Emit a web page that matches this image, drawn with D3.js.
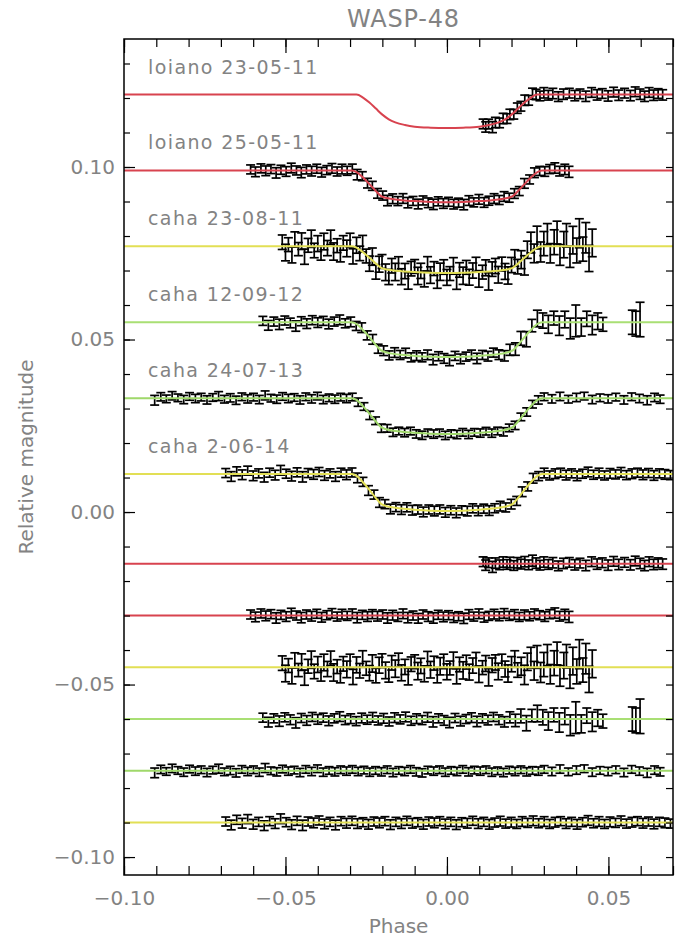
<!DOCTYPE html>
<html>
<head>
<meta charset="utf-8">
<script src="https://cdn.jsdelivr.net/npm/d3@7"></script>
<style>
  body { margin: 0; background: #fff; }
  text { font-family: "DejaVu Sans", sans-serif; fill: #838383; }
</style>
</head>
<body>
<svg id="chart" width="698" height="942"></svg>
<script>
// Light curves of WASP-48: transits (top) and residuals (bottom)
// points are [phase x1e-3, residual x1e-4 mag, error x1e-4 mag]

const labels = ['loiano 23-05-11', 'loiano 25-05-11', 'caha 23-08-11', 'caha 12-09-12', 'caha 24-07-13', 'caha 2-06-14'];
const baselines = [0.121, 0.099, 0.077, 0.055, 0.033, 0.011];
const residualLevels = [-0.015, -0.030, -0.045, -0.060, -0.075, -0.090];
const depths = [0.0097, 0.0092, 0.0077, 0.0101, 0.0104, 0.0107];
const xMajorTicks = [-0.10, -0.05, 0.00, 0.05];
const yMajorTicks = [-0.10, -0.05, 0.00, 0.05, 0.10];

// model shape (fraction of transit depth)
const modelPhaseLoiano = [-100, -28, -26, -24, -22, -20, -18, -16, -13, -10, -5, 0, 5, 10, 13, 16, 18, 20, 22, 24, 26, 28, 70];
const modelShapeLoiano = [0, 0, 0.09, 0.24, 0.42, 0.6, 0.74, 0.83, 0.91, 0.96, 0.99, 1, 0.99, 0.96, 0.91, 0.83, 0.74, 0.6, 0.42, 0.24, 0.09, 0, 0];
const modelPhase = [-100, -29.5, -28, -26, -24, -22, -20.5, -19, -17, -14, -10, -5, 0, 5, 10, 14, 17, 19, 20.5, 22, 24, 26, 28, 29.5, 70];
const modelShape = [0, 0, 0.05, 0.22, 0.43, 0.65, 0.8, 0.86, 0.9, 0.935, 0.965, 0.99, 1, 0.99, 0.965, 0.935, 0.9, 0.86, 0.8, 0.65, 0.43, 0.22, 0.05, 0, 0];

const loiano230511 = [[11.2,6,14],[12.0,-4,15],[12.9,3,14],[14.1,-9,16],[15.0,2,15],[16.3,-3,14],[17.4,5,15],[18.6,-2,14],[19.5,4,15],[20.7,-5,14],[21.8,3,15],[22.9,-1,14],[24.1,6,15],[25.3,-3,14],[26.5,9,16],[27.6,2,15],[28.8,-4,14],[30.0,5,15],[31.4,-2,14],[32.8,3,15],[34.5,-6,14],[36.1,1,15],[37.9,4,14],[39.6,-3,15],[41.2,2,14],[43.0,-5,15],[44.8,6,14],[46.5,-1,15],[48.1,3,14],[49.9,-4,15],[51.6,7,14],[53.2,-2,15],[55.0,4,14],[56.8,-3,15],[58.3,8,14],[59.8,1,15],[61.2,-5,15],[62.6,6,14],[64.0,-2,15],[65.4,3,14],[66.8,-1,15]];

const loiano250511 = [[-60.8,3,13],[-59.3,-4,14],[-57.6,6,13],[-56.1,-1,14],[-54.5,4,13],[-52.9,-7,15],[-51.4,2,13],[-49.8,-3,14],[-48.2,7,14],[-46.6,0,13],[-45.1,-6,15],[-43.5,3,13],[-41.9,-2,14],[-40.3,5,13],[-38.8,-5,14],[-37.2,1,13],[-35.6,6,14],[-34.0,-3,13],[-32.5,4,14],[-30.9,-1,13],[-29.3,5,14],[-27.8,-6,15],[-26.2,2,13],[-24.6,-3,14],[-23.1,4,13],[-21.5,-2,14],[-19.9,3,13],[-18.4,-7,15],[-16.8,1,14],[-15.2,-4,13],[-13.6,5,14],[-12.1,-6,15],[-10.5,0,13],[-8.9,-8,14],[-7.4,3,13],[-5.8,-3,14],[-4.2,-7,15],[-2.7,2,13],[-1.1,-4,14],[0.5,1,13],[2.1,-6,14],[3.6,-2,13],[5.2,-8,15],[6.8,3,14],[8.3,-3,13],[9.9,5,14],[11.5,-5,14],[13.0,-1,13],[14.6,4,14],[16.2,-2,13],[17.7,6,14],[19.3,-1,13],[20.9,3,14],[22.4,-4,13],[24.0,2,14],[25.6,-2,13],[27.1,5,14],[28.7,1,13],[30.3,-3,14],[31.8,4,13],[33.4,7,15],[34.9,-2,14],[36.5,3,15],[37.8,-4,16]];

const caha230811 = [[-51.0,12,21],[-50.0,-18,24],[-49.1,5,20],[-48.0,-25,23],[-47.1,20,22],[-46.0,-8,19],[-45.0,15,24],[-44.1,-30,22],[-43.0,3,20],[-42.0,22,25],[-41.1,-12,21],[-40.0,8,23],[-39.0,-20,20],[-38.1,14,24],[-37.0,-5,22],[-36.0,26,21],[-35.1,-15,25],[-34.0,2,20],[-33.0,-22,23],[-32.1,10,21],[-31.0,-6,24],[-30.0,18,20],[-29.1,-28,22],[-28.0,7,23],[-27.0,-10,21],[-26.1,24,24],[-25.0,-3,20],[-24.0,-17,22],[-23.1,11,25],[-22.0,-24,21],[-21.0,6,23],[-20.1,19,20],[-19.0,-9,24],[-18.0,-21,22],[-17.1,13,21],[-16.0,-4,25],[-15.0,21,20],[-14.1,-16,23],[-13.0,1,22],[-12.0,-27,24],[-11.1,9,21],[-10.0,16,20],[-9.0,-11,25],[-8.1,4,22],[-7.0,-19,23],[-6.0,25,21],[-5.1,-7,24],[-4.0,12,20],[-3.0,-23,22],[-2.1,3,25],[-1.0,17,21],[0.0,-13,23],[0.9,-2,20],[2.0,20,24],[3.0,-26,22],[3.9,8,21],[5.0,-9,25],[6.0,15,20],[6.9,-14,23],[8.0,5,22],[9.0,22,21],[9.9,-20,24],[11.0,-1,20],[12.0,11,23],[12.9,-29,25],[14.0,6,21],[15.0,14,22],[15.9,-12,24],[17.0,18,20],[18.0,-5,23],[18.9,-18,25],[20.0,9,22],[21.0,24,24],[21.9,-8,21],[23.0,3,26],[24.0,-22,28],[24.9,16,25],[26.0,28,30],[27.0,-10,27],[27.9,30,33],[29.0,-15,29],[30.0,8,35],[31.1,35,31],[32.0,-20,28],[33.2,12,36],[34.1,40,33],[35.0,-25,30],[36.2,5,38],[37.0,32,34],[38.1,-30,31],[39.0,18,40],[40.2,-12,36],[41.0,38,42],[42.1,-8,35],[43.0,25,44],[44.0,-35,38],[45.0,10,40]];

const caha120912 = [[-57.0,4,13],[-55.3,-9,14],[-53.6,2,13],[-51.9,-6,15],[-50.2,5,13],[-48.5,-2,14],[-46.8,-11,15],[-45.1,3,13],[-43.4,-4,14],[-41.7,6,13],[-40.0,-1,14],[-38.3,4,13],[-36.6,-5,14],[-34.9,2,13],[-33.2,7,14],[-31.5,-3,13],[-29.8,1,14],[-28.1,-6,13],[-26.4,3,14],[-24.7,-2,13],[-23.0,5,14],[-21.3,-4,13],[-19.6,2,14],[-17.9,-7,13],[-16.2,4,14],[-14.5,-1,13],[-12.8,6,14],[-11.1,-5,13],[-9.4,1,14],[-7.7,-3,13],[-6.0,5,14],[-4.3,-8,15],[-2.6,2,13],[-0.9,-4,14],[0.8,-10,15],[2.5,3,13],[4.2,-6,14],[5.9,0,13],[7.6,4,14],[9.3,-7,15],[11.0,2,13],[12.7,-3,14],[14.4,6,13],[16.1,-2,14],[17.8,-8,15],[19.5,5,16],[21.2,-4,18],[22.9,9,20],[24.6,-12,22],[26.3,10,18],[28.0,16,24],[29.7,5,22],[31.4,-6,26],[33.1,12,20],[34.8,-10,28],[36.5,8,24],[38.2,-18,30],[39.9,4,46],[41.6,-14,26],[43.3,10,22],[45.0,-8,28],[46.7,3,24],[48.3,-6,20],[57.4,0,35],[58.5,-4,36],[59.8,8,50]];

const caha240713 = [[-90.5,-6,14],[-88.6,4,12],[-86.9,-2,11],[-85.1,7,12],[-83.3,1,11],[-81.5,-4,12],[-79.7,5,11],[-77.9,-1,12],[-76.1,3,11],[-74.3,-5,12],[-72.5,2,11],[-70.7,6,13],[-68.9,-3,11],[-67.1,1,12],[-65.3,-6,12],[-63.5,4,11],[-61.7,-2,12],[-59.9,3,11],[-58.1,-4,12],[-56.3,8,13],[-54.5,0,11],[-52.7,-3,12],[-50.9,5,11],[-49.1,-1,12],[-47.3,2,11],[-45.5,-5,12],[-43.7,4,11],[-41.9,-2,12],[-40.1,6,11],[-38.3,-4,12],[-36.5,1,11],[-34.7,-3,12],[-32.9,3,11],[-31.1,-1,12],[-29.3,4,11],[-27.5,-2,12],[-25.7,2,11],[-23.9,-4,12],[-22.1,1,11],[-20.3,-3,12],[-18.5,3,11],[-16.7,-5,12],[-14.9,1,11],[-13.1,-2,12],[-11.3,4,11],[-9.5,-3,12],[-7.7,-6,12],[-5.9,2,11],[-4.1,-1,12],[-2.3,3,11],[-0.5,-4,12],[1.3,1,11],[3.1,-2,12],[4.9,4,11],[6.7,-3,12],[8.5,2,11],[10.3,-1,12],[12.1,3,11],[13.9,-4,12],[15.7,0,11],[17.5,-5,12],[19.3,2,11],[21.1,-2,12],[22.9,3,11],[24.7,-3,12],[26.5,1,11],[28.3,-1,12],[30.1,4,11],[32.5,-2,12],[35.0,5,12],[37.6,-3,11],[40.1,2,12],[42.5,6,11],[45.0,-4,12],[47.4,1,11],[49.9,-2,12],[52.3,3,11],[54.8,-5,12],[57.2,4,11],[59.6,-1,12],[62.0,-6,13],[64.3,2,12],[66.0,-3,12]];

const caha020614 = [[-68.5,3,13],[-66.8,-7,14],[-65.1,8,13],[-63.4,-2,14],[-61.7,10,13],[-60.0,-5,14],[-58.3,2,13],[-56.6,-9,14],[-54.9,4,13],[-53.2,-3,14],[-51.5,11,14],[-49.8,1,13],[-48.1,-6,14],[-46.4,5,13],[-44.7,-8,15],[-43.0,3,13],[-41.3,-1,14],[-39.6,6,13],[-37.9,-4,14],[-36.2,2,13],[-34.5,-7,14],[-32.8,4,13],[-31.1,-2,14],[-29.4,5,13],[-27.7,-3,14],[-26.0,1,13],[-24.3,-5,14],[-22.6,3,13],[-20.9,-1,14],[-19.2,4,13],[-17.5,-6,14],[-15.8,2,13],[-14.1,-3,14],[-12.4,5,13],[-10.7,-2,14],[-9.0,1,13],[-7.3,-5,14],[-5.6,3,13],[-3.9,-1,14],[-2.2,4,13],[-0.5,-4,14],[1.2,2,13],[2.9,-6,14],[4.6,1,13],[6.3,-2,14],[8.0,5,13],[9.7,-3,14],[11.4,2,13],[13.1,-5,14],[14.8,0,13],[16.5,4,14],[18.2,-3,13],[19.9,1,14],[21.6,-4,13],[23.3,3,14],[25.0,-1,13],[26.7,5,14],[28.4,-2,13],[30.1,3,14],[31.8,-4,13],[33.5,1,14],[35.2,4,13],[36.9,-3,14],[38.6,2,13],[40.3,-5,14],[42.0,1,13],[43.7,6,14],[45.4,-2,13],[47.1,3,14],[48.8,-4,13],[50.5,2,14],[52.2,-1,13],[53.9,5,14],[55.6,-3,13],[57.3,1,14],[59.0,4,13],[60.7,-2,14],[62.4,3,13],[64.1,-4,14],[65.8,2,13],[67.5,-1,14],[69.2,-3,13]];

const datasets = [loiano230511, loiano250511, caha230811, caha120912, caha240713, caha020614];

// styling
const lineColors = ['#d8434f', '#d8434f', '#e2df55', '#a9df74', '#9fd86a', '#e2df55'];
const margin = { top: 39, right: 25, bottom: 67, left: 124 };
const width = 698, height = 942;

const svg = d3.select('#chart');
svg.append('rect').attr('width', width).attr('height', height).attr('fill', '#fff');

const x = d3.scaleLinear().domain([-0.10, 0.07]).range([margin.left, width - margin.right]);
const y = d3.scaleLinear().domain([-0.1052, 0.1371]).range([height - margin.bottom, margin.top]);

svg.append('defs').append('clipPath').attr('id', 'plot-clip')
  .append('rect')
  .attr('x', margin.left).attr('y', margin.top)
  .attr('width', x.range()[1] - x.range()[0])
  .attr('height', y.range()[0] - y.range()[1]);

const plot = svg.append('g').attr('clip-path', 'url(#plot-clip)');

const fmt = d3.format('.2f');
const xMinor = x.ticks(17);
const yMinor = d3.scaleLinear().domain([-0.10, 0.13]).ticks(23);

// axes, ticks pointing inward
function styleAxis(g) {
  g.select('.domain').remove();
  g.selectAll('.tick line').attr('stroke', '#000').attr('stroke-width', 1.2);
  g.selectAll('.tick text').style('font-size', '20px').attr('fill', '#838383');
}

svg.append('g').attr('transform', `translate(0,${y.range()[0]})`)
  .call(d3.axisBottom(x).tickValues(xMinor).tickSize(-9).tickFormat(''))
  .call(styleAxis);
svg.append('g').attr('transform', `translate(0,${y.range()[0]})`)
  .call(d3.axisBottom(x).tickValues(xMajorTicks).tickSize(-18).tickPadding(16).tickFormat(fmt))
  .call(styleAxis);
svg.append('g').attr('transform', `translate(0,${margin.top})`)
  .call(d3.axisTop(x).tickValues(xMinor).tickSize(-8).tickFormat(''))
  .call(styleAxis);
svg.append('g').attr('transform', `translate(0,${margin.top})`)
  .call(d3.axisTop(x).tickValues(xMajorTicks).tickSize(-14).tickFormat(''))
  .call(styleAxis);
svg.append('g').attr('transform', `translate(${margin.left},0)`)
  .call(d3.axisLeft(y).tickValues(yMinor).tickSize(-6).tickFormat(''))
  .call(styleAxis);
svg.append('g').attr('transform', `translate(${margin.left},0)`)
  .call(d3.axisLeft(y).tickValues(yMajorTicks).tickSize(-11).tickPadding(9).tickFormat(fmt))
  .call(styleAxis);
svg.append('g').attr('transform', `translate(${x.range()[1]},0)`)
  .call(d3.axisRight(y).tickValues(yMinor).tickSize(-7).tickFormat(''))
  .call(styleAxis);

svg.append('rect')
  .attr('x', margin.left).attr('y', margin.top)
  .attr('width', x.range()[1] - x.range()[0])
  .attr('height', y.range()[0] - y.range()[1])
  .attr('fill', 'none').attr('stroke', '#000').attr('stroke-width', 1.5);

// data + model for each night
const capHalf = 4.5;
const line = d3.line().x((d) => x(d[0])).y((d) => y(d[1])).curve(d3.curveMonotoneX);

datasets.forEach((pts, i) => {
  const mPhase = i === 0 ? modelPhaseLoiano : modelPhase;
  const mShape = i === 0 ? modelShapeLoiano : modelShape;
  const shape = d3.scaleLinear().domain(mPhase).range(mShape).clamp(true);
  const base = baselines[i];
  const depth = depths[i];

  const transitPts = pts.map((p) => ({
    px: p[0] / 1000,
    v: base - depth * shape(p[0]) + p[1] / 10000,
    e: p[2] / 10000,
  }));
  const residPts = pts.map((p) => ({
    px: p[0] / 1000,
    v: residualLevels[i] + p[1] / 10000,
    e: p[2] / 10000,
  }));

  [transitPts, residPts].forEach((set) => {
    const g = plot.append('g').attr('stroke', '#000').attr('stroke-width', 1.7).attr('fill', 'none');
    const bars = g.selectAll('g.bar').data(set).join('g').attr('class', 'bar');
    bars.append('line')
      .attr('x1', (d) => x(d.px)).attr('x2', (d) => x(d.px))
      .attr('y1', (d) => y(d.v - d.e)).attr('y2', (d) => y(d.v + d.e));
    bars.append('line')
      .attr('x1', (d) => x(d.px) - capHalf).attr('x2', (d) => x(d.px) + capHalf)
      .attr('y1', (d) => y(d.v + d.e)).attr('y2', (d) => y(d.v + d.e));
    bars.append('line')
      .attr('x1', (d) => x(d.px) - capHalf).attr('x2', (d) => x(d.px) + capHalf)
      .attr('y1', (d) => y(d.v - d.e)).attr('y2', (d) => y(d.v - d.e));
  });

  const modelPts = mPhase.map((ph, k) => [ph / 1000, base - depth * mShape[k]]);
  plot.append('path')
    .attr('d', line(modelPts))
    .attr('fill', 'none')
    .attr('stroke', lineColors[i])
    .attr('stroke-width', 2);

  plot.append('path')
    .attr('d', line([[x.domain()[0], residualLevels[i]], [x.domain()[1], residualLevels[i]]]))
    .attr('fill', 'none')
    .attr('stroke', lineColors[i])
    .attr('stroke-width', 2);

  svg.append('text')
    .attr('x', margin.left + 24)
    .attr('y', y(base) - 21)
    .style('font-size', '19px')
    .attr('letter-spacing', '1.4')
    .text(labels[i]);
});

// titles
svg.append('text')
  .attr('x', (x.range()[0] + x.range()[1]) / 2 + 5)
  .attr('y', 27)
  .attr('text-anchor', 'middle')
  .style('font-size', '24px')
  .attr('letter-spacing', '0.8')
  .text('WASP-48');

svg.append('text')
  .attr('x', (x.range()[0] + x.range()[1]) / 2)
  .attr('y', 933)
  .attr('text-anchor', 'middle')
  .style('font-size', '20px')
  .text('Phase');

svg.append('text')
  .attr('transform', `translate(33,${(y.range()[0] + y.range()[1]) / 2}) rotate(-90)`)
  .attr('text-anchor', 'middle')
  .style('font-size', '20px')
  .text('Relative magnitude');
</script>
</body>
</html>
